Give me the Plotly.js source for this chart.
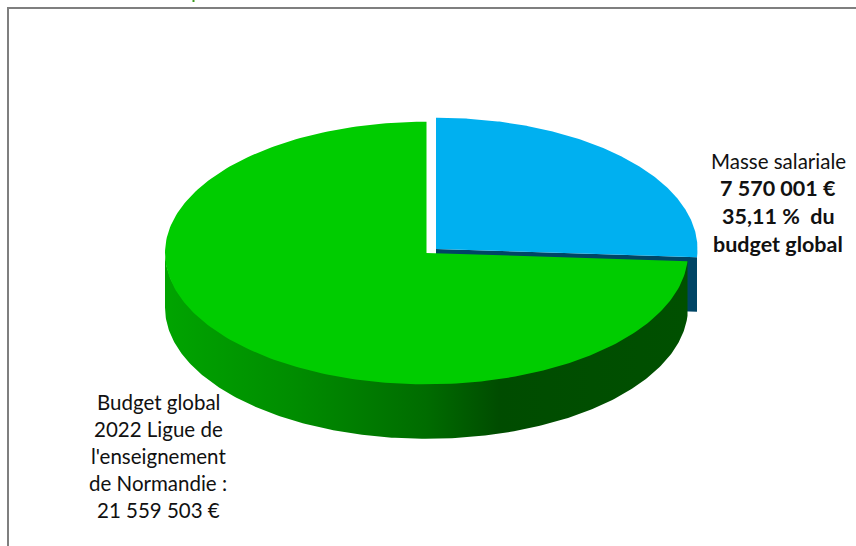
<!DOCTYPE html>
<html>
<head>
<meta charset="utf-8">
<script src="https://cdn.plot.ly/plotly-3.0.1.min.js"></script>
<style>html,body{margin:0;padding:0;background:#fff;overflow:hidden}#chart{width:856px;height:546px}</style>
</head>
<body>
<div id="chart"></div>
<script>
// Data
const categories = ["Masse salariale", "Budget global"];
const values = [7570001, 21559503];
const salaryLabel = [
  {text: "Masse salariale", bold: false},
  {text: "7 570 001 €", bold: true},
  {text: "35,11 %  du", bold: true},
  {text: "budget global", bold: true}
];
const budgetLabel = [
  {text: "Budget global", bold: false},
  {text: "2022 Ligue de", bold: false},
  {text: "l'enseignement", bold: false},
  {text: "de Normandie :", bold: false},
  {text: "21 559 503 €", bold: false}
];

// Pie geometry (pixel-scale axes)
const rx = 261.5, ry = 131.3, depth = 54.5;
const blueCentre = {x: 436, y: 249};
const greenCentre = {x: 426.5, y: 253};

const total = values.reduce((a, b) => a + b, 0);
const split = 2 * Math.PI * values[0] / total;

function arc(c, from, to, dy) {
  const n = 240, xs = [], ys = [];
  for (let i = 0; i <= n; i++) {
    const t = from + (to - from) * i / n;
    xs.push(c.x + rx * Math.sin(t));
    ys.push(c.y - ry * Math.cos(t) + (dy || 0));
  }
  return {x: xs, y: ys};
}
function wedge(c, from, to) {
  const a = arc(c, from, to);
  return {x: [c.x, ...a.x, c.x], y: [c.y, ...a.y, c.y]};
}
function side(c, from, to) {
  // the upper edge tucks 1.5 units under the top face so no seam shows
  const top = arc(c, from, to, -1.5), bot = arc(c, to, from, depth);
  return {x: [...top.x, ...bot.x, top.x[0]], y: [...top.y, ...bot.y, top.y[0]]};
}
function poly(p, color, name, extra) {
  return Object.assign({
    type: "scatter", mode: "lines", x: p.x, y: p.y, fill: "toself",
    fillcolor: color, line: {width: 0, color: color}, name: name,
    hoverinfo: "name", showlegend: false
  }, extra || {});
}

// Blue cut face, visible below the blue top and behind the green slice
const blueEnd = arc(blueCentre, split, split);
const blueFace = {
  x: [blueCentre.x, blueEnd.x[0], blueEnd.x[0], blueCentre.x, blueCentre.x],
  y: [blueCentre.y, blueEnd.y[0], blueEnd.y[0] + depth, blueCentre.y + depth, blueCentre.y]
};

const data = [
  poly(blueFace, "#004565", categories[0]),
  poly(wedge(blueCentre, 0, split), "#00b0f0", categories[0]),
  poly(side(greenCentre, split, 1.5 * Math.PI), "#005000", categories[1], {
    fillgradient: {
      type: "horizontal",
      colorscale: [[0, "#00a400"], [0.25, "#008c00"], [0.5, "#006c00"], [0.64, "#004c00"], [1, "#005000"]]
    }
  }),
  poly(wedge(greenCentre, split, 2 * Math.PI), "#00cc00", categories[1])
];

function labelBlock(lines, xc, ys) {
  return lines.map((l, i) => ({
    xref: "x", yref: "y", x: xc, y: ys[i], showarrow: false,
    xanchor: "center", yanchor: "middle",
    text: l.bold ? "<b>" + l.text + "</b>" : l.text,
    font: {family: "Lato, 'Noto Sans', sans-serif", size: l.bold ? 21.5 : 20.5, color: "#111111"}
  }));
}

const layout = {
  width: 856, height: 546,
  margin: {l: 0, r: 0, t: 0, b: 0},
  paper_bgcolor: "#ffffff", plot_bgcolor: "#ffffff",
  showlegend: false,
  xaxis: {range: [0, 856], visible: false, fixedrange: true},
  yaxis: {range: [546, 0], visible: false, fixedrange: true},
  annotations: [
    ...labelBlock(salaryLabel, 778, [161, 188, 216, 244]),
    ...labelBlock(budgetLabel, 158, [402, 429, 456, 483, 510])
  ],
  shapes: [
    {type: "line", xref: "x", yref: "y", x0: 7, x1: 856, y0: 8, y1: 8, line: {color: "#7f7f7f", width: 2}},
    {type: "line", xref: "x", yref: "y", x0: 8, x1: 8, y0: 7, y1: 546, line: {color: "#7f7f7f", width: 2}},
    {type: "line", xref: "x", yref: "y", x0: 193.5, x1: 193.5, y0: 0, y1: 2, line: {color: "#3f9a20", width: 2}}
  ]
};

Plotly.newPlot("chart", data, layout, {displayModeBar: false, responsive: false});
</script>
</body>
</html>
